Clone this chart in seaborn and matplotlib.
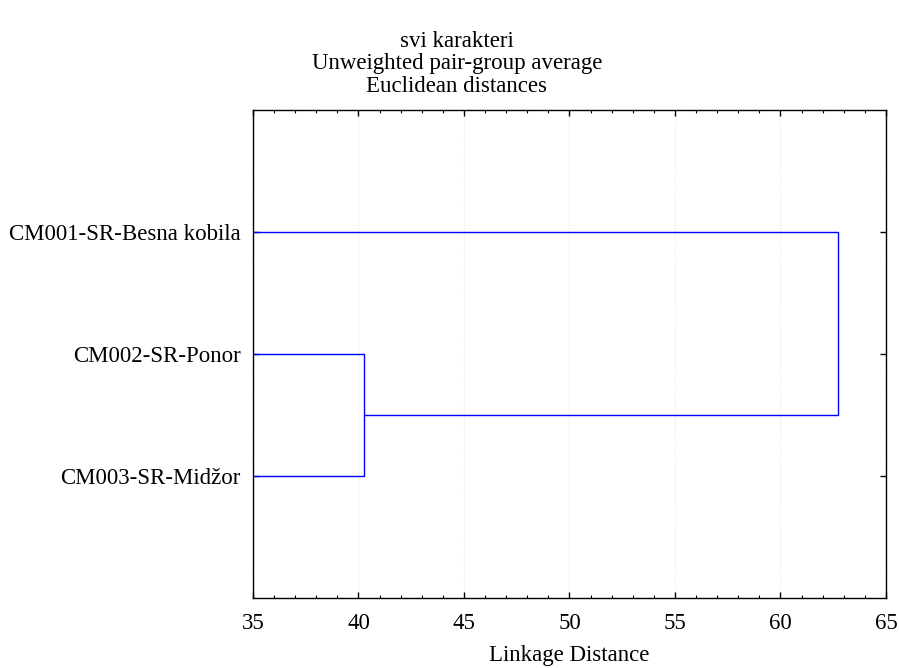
import numpy as np
import pandas as pd
import matplotlib
matplotlib.use("Agg")
import matplotlib.pyplot as plt
import seaborn as sns
from matplotlib.ticker import MultipleLocator

# Leaves in display order (top to bottom)
leaf_labels = ["CM001-SR-Besna kobila", "CM002-SR-Ponor", "CM003-SR-Midžor"]
# Merges: (left member, right member, linkage distance); members >= 3 are clusters
merge_a = [1, 0]
merge_b = [2, 3]
merge_dist = [40.25, 62.72]

x_min, x_max = 35, 65
x_ticks = [35, 40, 45, 50, 55, 60, 65]

title_lines = ["svi karakteri", "Unweighted pair-group average", "Euclidean distances"]
x_label = "Linkage Distance"

# Build dendrogram segments (horizontal left of each node, vertical joining children)
n = len(leaf_labels)
pos = {i: (x_min, i + 1.0) for i in range(n)}
rows = []
seg = 0
for k, (a, b, d) in enumerate(zip(merge_a, merge_b, merge_dist)):
    for child in (a, b):
        cx, cy = pos[child]
        rows += [dict(seg=seg, x=cx, y=cy), dict(seg=seg, x=d, y=cy)]
        seg += 1
    ya, yb = pos[a][1], pos[b][1]
    rows += [dict(seg=seg, x=d, y=ya), dict(seg=seg, x=d, y=yb)]
    seg += 1
    pos[n + k] = (d, (ya + yb) / 2)
segments = pd.DataFrame(rows)

sns.set_style("white")
plt.rcParams["font.family"] = ["Liberation Serif", "DejaVu Serif"]
plt.rcParams["text.color"] = "black"
plt.rcParams["axes.labelcolor"] = "black"
plt.rcParams["xtick.color"] = "black"
plt.rcParams["ytick.color"] = "black"

FS = 16.5

fig = plt.figure(figsize=(8.99, 6.68), dpi=100)
ax = fig.add_axes([0.2814, 0.1048, 0.7041, 0.7305])

sns.lineplot(data=segments, x="x", y="y", units="seg", estimator=None, sort=False,
             color="#0000ff", linewidth=1.0, ax=ax, legend=False)

ax.set_xlim(x_min, x_max)
ax.set_ylim(n + 1, 0)
ax.set_xticks(x_ticks)
ax.set_xticklabels([str(t) for t in x_ticks], fontsize=FS)
ax.xaxis.set_minor_locator(MultipleLocator(1))
ax.set_yticks(np.arange(1, n + 1))
ax.set_yticklabels(leaf_labels, fontsize=FS)

ax.grid(axis="x", which="major", color="#e4e4e4", linestyle=(0, (1, 1.5)), linewidth=0.8)
ax.set_axisbelow(True)

ax.tick_params(axis="x", which="major", direction="in", length=4, width=1,
               top=True, bottom=True, color="black", labelcolor="black", pad=11)
ax.tick_params(axis="y", which="major", direction="in", length=4, width=1,
               left=True, right=True, color="black", labelcolor="black", pad=9)
ax.tick_params(axis="x", which="minor", direction="in", length=2, width=0.8,
               top=True, bottom=True, color="black")
ax.tick_params(axis="y", which="minor", left=False, right=False)

for s in ax.spines.values():
    s.set_visible(True)
    s.set_color("black")
    s.set_linewidth(1.0)

ax.set_xlabel(x_label, fontsize=FS, labelpad=8, color="black")
ax.set_ylabel("")
ax.set_title("\n".join(title_lines), fontsize=FS, pad=13, linespacing=1.1,
             x=0.3223, ha="center", color="black")

fig.savefig("out.png", dpi=100, facecolor="white")
